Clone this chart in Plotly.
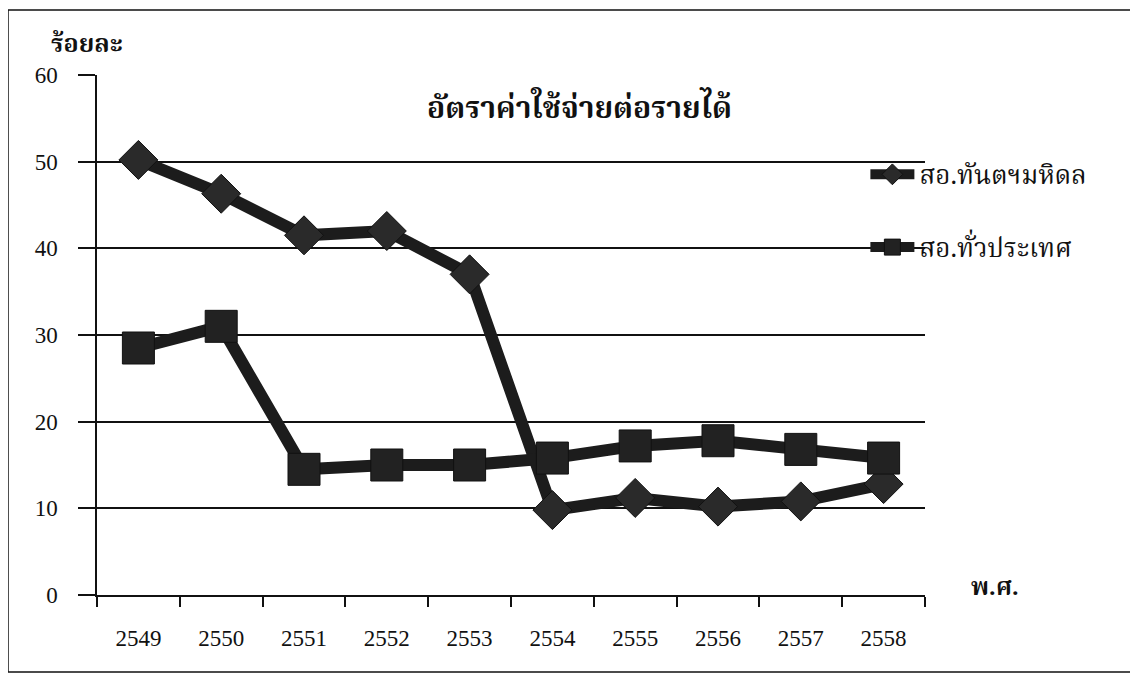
import plotly.graph_objects as go

years = ["2549", "2550", "2551", "2552", "2553", "2554", "2555", "2556", "2557", "2558"]
mahidol = [50.2, 46.3, 41.5, 42.0, 37.0, 9.8, 11.2, 10.2, 10.8, 12.8]
nationwide = [28.5, 31.0, 14.5, 15.0, 15.0, 15.8, 17.2, 17.8, 16.8, 15.8]

name_mahidol = "สอ.ทันตฯมหิดล"
name_nation = "สอ.ทั่วประเทศ"
title_text = "อัตราค่าใช้จ่ายต่อรายได้"
y_title = "ร้อยละ"
x_title = "พ.ศ."

serif = "Liberation Serif, Times New Roman, serif"
thai = "Noto Serif Thai, Noto Sans Thai, Liberation Serif, serif"

fig = go.Figure()
fig.add_trace(go.Scatter(
    x=years, y=mahidol, name=name_mahidol, mode="lines+markers",
    line=dict(color="#1c1c1c", width=12),
    marker=dict(symbol="diamond", size=30, color="#2a2a2a", line=dict(color="#111", width=1)),
    legendgroup="a",
))
fig.add_trace(go.Scatter(
    x=years, y=nationwide, name=name_nation, mode="lines+markers",
    line=dict(color="#1c1c1c", width=12),
    marker=dict(symbol="square", size=32, color="#222", line=dict(color="#111", width=1)),
    legendgroup="b",
))

# the page body adds an 8px offset, so the figure is 8px smaller with margins reduced accordingly
fig.update_layout(
    width=1130, height=667,
    margin=dict(l=89, r=213, t=67, b=80),
    paper_bgcolor="white", plot_bgcolor="white",
    showlegend=True,
    legend=dict(x=0.928, y=0.854, xanchor="left", yanchor="top",
                font=dict(family=thai, size=26, color="#111"),
                tracegroupgap=36, bgcolor="rgba(0,0,0,0)", itemwidth=44),
    font=dict(family=serif, color="#111"),
)
fig.update_xaxes(
    type="category", range=[-0.5, 9.5],
    showline=True, linecolor="#111", linewidth=1.5,
    ticks="outside", tickson="boundaries", ticklen=10, tickcolor="#111", tickwidth=1.5,
    tickfont=dict(family=serif, size=23, color="#111"), ticklabelstandoff=22,
    showgrid=False, zeroline=False,
)
fig.update_yaxes(
    range=[0, 60], dtick=10,
    showline=True, linecolor="#111", linewidth=1.5,
    ticks="outside", ticklen=17, tickcolor="#111", tickwidth=1.5,
    tickfont=dict(family=serif, size=23, color="#111"), ticklabelstandoff=16,
    showgrid=True, gridcolor="#111", gridwidth=1.5, zeroline=False,
)

fig.add_annotation(text="<b>" + title_text + "</b>", xref="paper", yref="paper", x=0.583, y=0.933,
                   xanchor="center", yanchor="middle",
                   showarrow=False, font=dict(family=thai, size=30, color="#111"))
fig.add_annotation(text="<b>" + y_title + "</b>", xref="paper", yref="paper", x=-0.012, y=1.058,
                   xanchor="center", yanchor="middle",
                   showarrow=False, font=dict(family=thai, size=25, color="#111"))
fig.add_annotation(text="<b>" + x_title + "</b>", xref="paper", yref="paper", x=1.085, y=0.013,
                   xanchor="center", yanchor="middle",
                   showarrow=False, font=dict(family=thai, size=24, color="#111"))

fig.add_shape(type="rect", xref="paper", yref="paper",
              x0=-0.1075, x1=1.2536, y0=-0.148, y1=1.125,
              line=dict(color="#111", width=1.5), fillcolor="rgba(0,0,0,0)", layer="below")

fig.write_html("out.html")
